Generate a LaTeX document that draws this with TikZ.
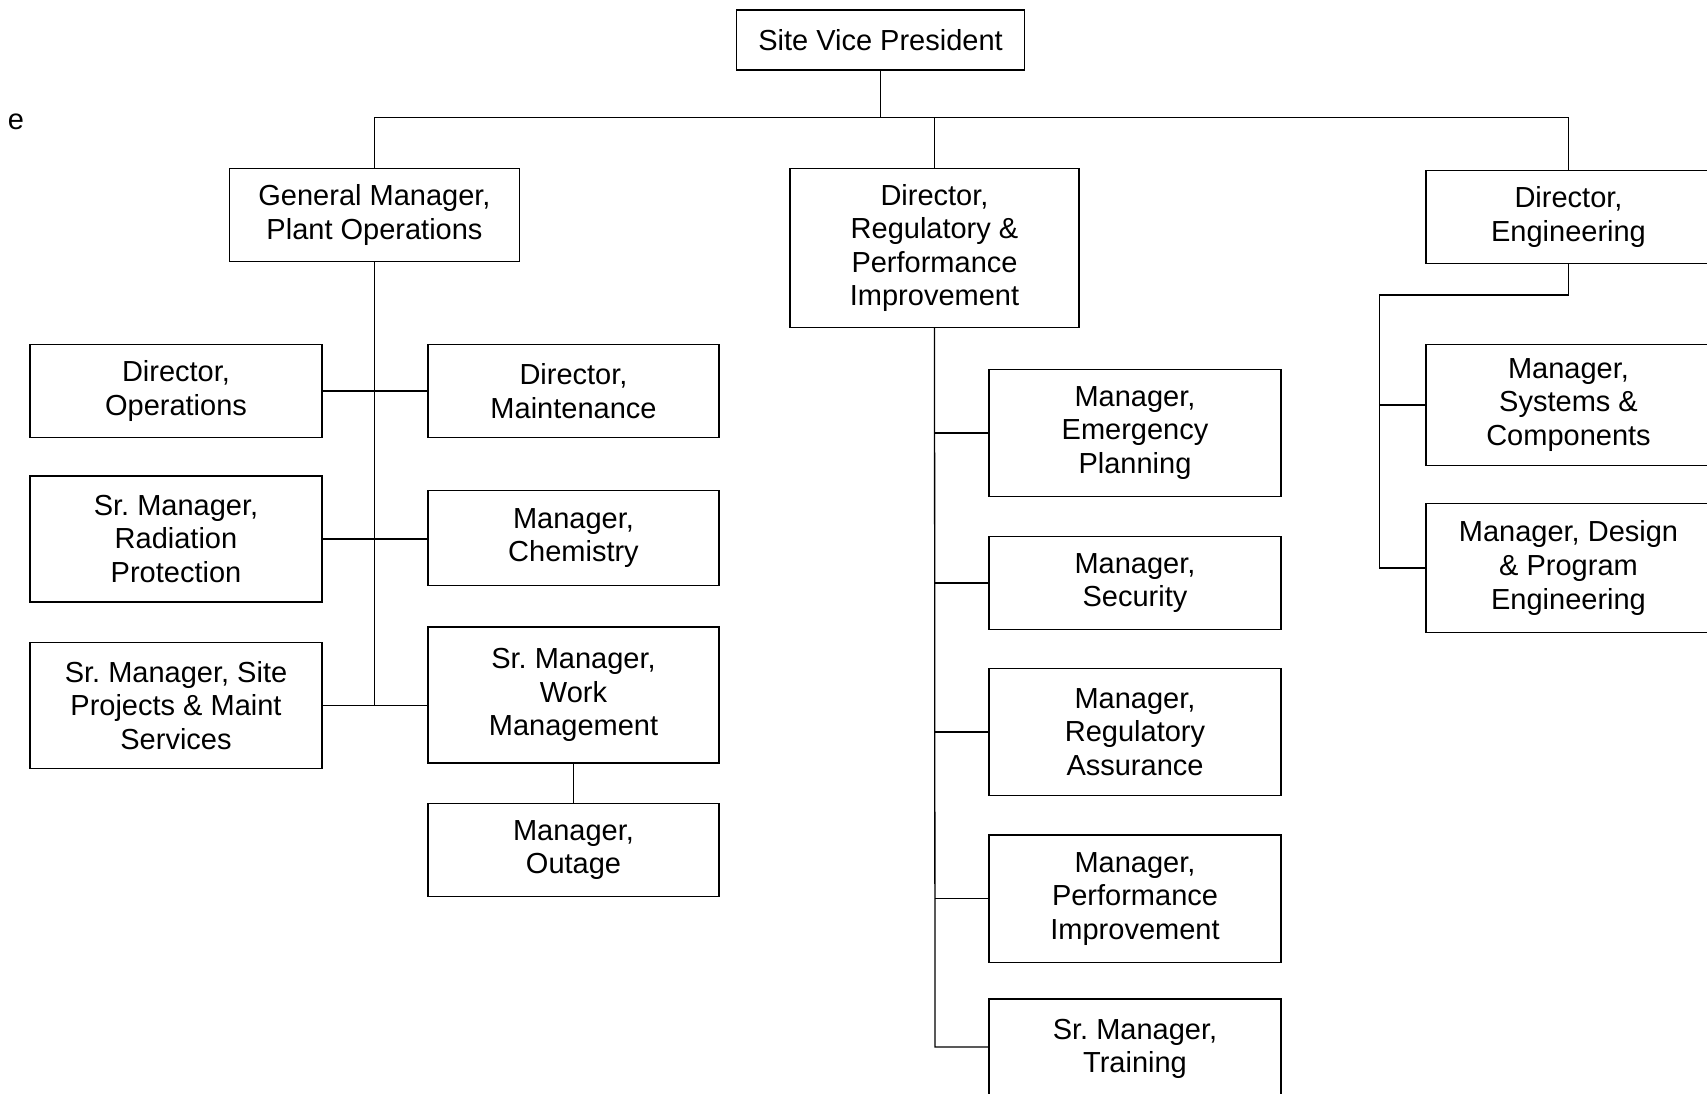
\documentclass[tikz,border=0pt]{standalone}
\usepackage{fontspec}
\setmainfont{Liberation Sans}
\frenchspacing
\begin{document}
\begin{tikzpicture}
    [x=0.5pt,y=-0.5pt,line width=0.65pt,
     box/.style={draw,align=center,inner sep=0pt,font=\fontsize{14.5}{16.8}\selectfont},
     wide/.style={box,minimum width=146pt}]
    \useasboundingbox (0,0) rectangle (1707,1093);
    \node[font=\fontsize{14.5}{16.8}\selectfont] (e) at (16,122) {e};
    % top level
    \node[box,minimum width=144pt,minimum height=30pt] (vp) at (880.5,40) {Site Vice President};
    \node[wide,minimum width=145pt,minimum height=46.3pt] (gm) at (374.5,215) {General Manager,\\Plant Operations};
    \node[wide,minimum width=144.4pt,minimum height=79.5pt] (dreg) at (934.5,248) {Director,\\Regulatory \&\\Performance\\Improvement};
    \node[wide,minimum width=142.5pt,minimum height=46.2pt] (deng) at (1568.5,217) {Director,\\Engineering};
    % plant operations
    \node[wide,minimum height=46.3pt] (ops) at (176,391) {Director,\\Operations};
    \node[wide,minimum height=63pt] (rad) at (176,539) {Sr. Manager,\\Radiation\\Protection};
    \node[wide,minimum height=63pt] (site) at (176,705.5) {Sr. Manager, Site\\Projects \& Maint\\Services};
    \node[wide,minimum width=145.4pt,minimum height=46.3pt] (maint) at (573.5,391) {Director,\\Maintenance};
    \node[wide,minimum width=145.4pt,minimum height=47.8pt] (chem) at (573.5,538) {Manager,\\Chemistry};
    \node[wide,minimum width=145.4pt,minimum height=68pt] (wm) at (573.5,695) {Sr. Manager,\\Work\\Management};
    \node[wide,minimum width=145.4pt,minimum height=46.8pt] (outage) at (573.5,850) {Manager,\\Outage};
    % regulatory & performance improvement
    \node[wide,minimum height=63.2pt] (emerg) at (1135,433) {Manager,\\Emergency\\Planning};
    \node[wide,minimum height=46.3pt] (sec) at (1135,583) {Manager,\\Security};
    \node[wide,minimum height=63.7pt] (ra) at (1135,732) {Manager,\\Regulatory\\Assurance};
    \node[wide,minimum height=63.7pt] (pi) at (1135,898.7) {Manager,\\Performance\\Improvement};
    \node[wide,minimum height=50pt] (train) at (1135,1049) {Sr. Manager,\\Training};
    % engineering
    \node[wide,minimum width=142.5pt,minimum height=60.4pt] (sys) at (1568.5,405) {Manager,\\Systems \&\\Components};
    \node[wide,minimum width=142.5pt,minimum height=64.7pt] (design) at (1568.5,568) {Manager, Design\\\& Program\\Engineering};
    \coordinate (bus) at (880.5,117.6);
    \coordinate (ej) at (1379.5,295);
    \coordinate (tr) at (935,1047);

    \draw (vp.south) -- (bus);
    \draw (gm.north) |- (bus) -| (deng.north);
    \draw (dreg.north) -- (dreg.north |- bus);
    \draw (gm.south) -- (gm.south |- site.east);
    \draw (ops.east) -- (ops.east -| maint.west);
    \draw (rad.east) -- (rad.east -| chem.west);
    \draw (site.east) -- (site.east -| wm.west);
    \draw (wm.south) -- (outage.north);
    \draw (dreg.south) -- (tr) -- (tr -| train.west);
    \foreach \n in {emerg,sec,ra,pi}
        \draw (dreg.south |- \n.west) -- (\n.west);
    \draw (deng.south) |- (ej) -- (ej |- design.west) -- (design.west);
    \draw (ej |- sys.west) -- (sys.west);
  \end{tikzpicture}
\end{document}
